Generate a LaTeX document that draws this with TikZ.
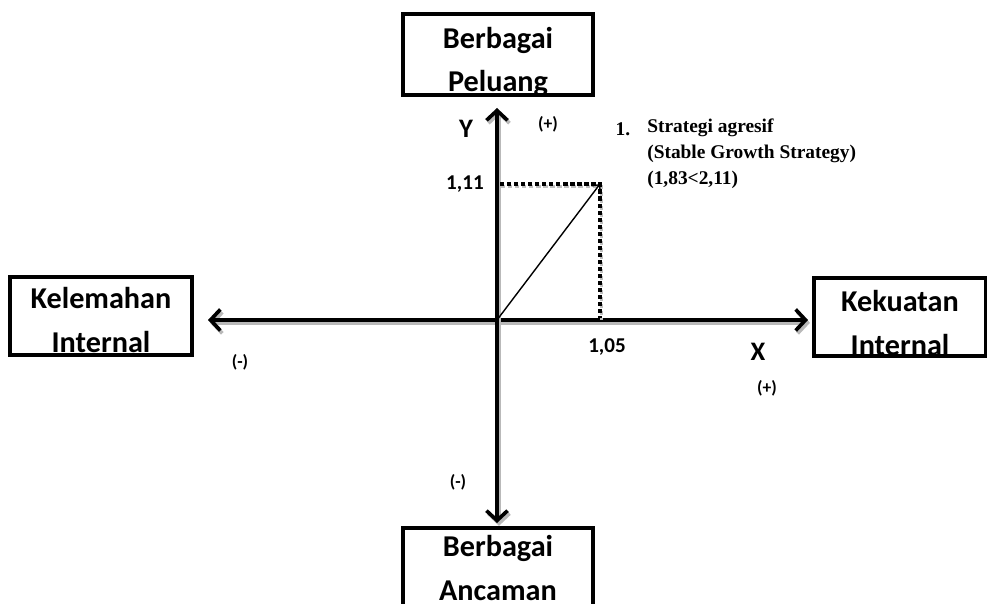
\documentclass[tikz,border=0pt]{standalone}
\usepackage{fontspec}
\setmainfont{Liberation Serif}
\newfontfamily\calibri{Carlito}
\usetikzlibrary{arrows.meta}

\tikzset{
  quadbox/.style={draw, line width=2.6pt, minimum width=#1, inner sep=0pt},
  boxtext/.style={align=center, inner sep=0pt, font=\calibri\bfseries\fontsize{21.5}{31}\selectfont},
  axisline/.style={line width=2.6pt, {Straight Barb[length=7pt,width=15pt,line width=2.6pt]}-{Straight Barb[length=7pt,width=15pt,line width=2.6pt]},
    preaction={draw=gray!55, line width=2.6pt, transform canvas={shift={(1.4pt,-2pt)}}}},
  dotline/.style={line width=2.2pt, dash pattern=on 3pt off 2pt,
    preaction={draw=gray!50, line width=2.2pt, dash pattern=on 3pt off 2pt, transform canvas={shift={(0.8pt,-1.6pt)}}}},
  vecarrow/.style={line width=1pt, -{Straight Barb[length=4pt,width=8pt]}},
  axislabel/.style={inner sep=0pt, font=\calibri\bfseries\fontsize{19}{22}\selectfont},
  ticklabel/.style={inner sep=0pt, font=\calibri\bfseries\fontsize{15}{18}\selectfont},
  signlabel/.style={inner sep=0pt, font=\calibri\bfseries\fontsize{12.5}{15}\selectfont}
}

\begin{document}
\begin{tikzpicture}[x=0.025cm, y=-0.025cm]
    \useasboundingbox (0,0) rectangle (987,604);

    % boxes
    \node[quadbox=190*0.025cm, minimum height=81*0.025cm] (peluang) at (498,54.5) {};
    \node[quadbox=190*0.025cm, minimum height=90*0.025cm] (ancaman) at (498,573) {};
    \node[quadbox=182*0.025cm, minimum height=78*0.025cm] (kelemahan) at (101,316) {};
    \node[quadbox=172*0.025cm, minimum height=78*0.025cm] (kekuatan) at (900,317) {};
    \node[boxtext] (peluangtxt) at (498,62) {Berbagai\\Peluang};
    \node[boxtext] (ancamantxt) at (498,568) {Berbagai\\Ancaman};
    \node[boxtext] (kelemahantxt) at (101,320) {Kelemahan\\Internal};
    \node[boxtext] (kekuatantxt) at (900,323) {Kekuatan\\Internal};

    % axes
    \coordinate (o) at (497,320);
    \coordinate (xl) at (208,320);
    \coordinate (xr) at (808,320);
    \coordinate (yt) at (497,108);
    \coordinate (yb) at (497,523);
    \draw[axisline] (xl) -- (xr);
    \draw[axisline] (yt) -- (yb);

    % point
    \coordinate (p) at (600,184);
    \coordinate (py) at (500,184);
    \coordinate (px) at (600,318);
    \draw[dotline] (py) -- (p) -- (px);
    \draw[vecarrow] (o) -- (p);

    % labels
    \node[axislabel] (ylab) at (466,129) {Y};
    \node[axislabel] (xlab) at (758,352) {X};
    \node[ticklabel] (yval) at (465,184) {1,11};
    \node[ticklabel] (xval) at (607,347) {1,05};
    \node[signlabel] (ypos) at (548,124) {(+)};
    \node[signlabel] (xpos) at (767,388) {(+)};
    \node[signlabel] (xneg) at (240,362) {(-)};
    \node[signlabel] (yneg) at (458,482) {(-)};

    \node[inner sep=0pt, font=\bfseries\fontsize{13.8}{16}\selectfont] (num) at (623,129) {1.};
    \node[anchor=north west, align=left, inner sep=0pt, font=\bfseries\fontsize{13.8}{18.5}\selectfont] (strategi) at (647,119)
      {Strategi agresif\\(Stable Growth Strategy)\\(1,83<2,11)};
  \end{tikzpicture}
\end{document}
